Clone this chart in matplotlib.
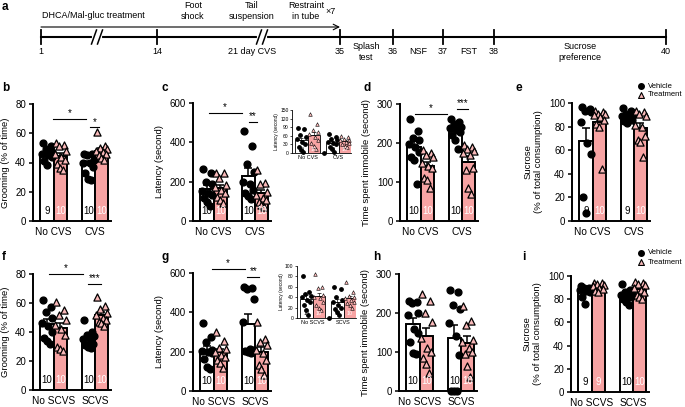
import numpy as np
import matplotlib
matplotlib.use("Agg")
import matplotlib.pyplot as plt

plt.rcParams['font.family'] = ['Liberation Sans', 'DejaVu Sans']

W, H = 685, 407
PINK = "#F7A3A3"
TRI = "#F9B9B9"

# ---- data ----
cvs_groups = ["No CVS", "CVS"]
scvs_groups = ["No SCVS", "SCVS"]

# b grooming (% of time)
b_veh = [[53, 51, 49, 47, 46, 45, 44, 41, 38],
         [46, 46, 45, 42, 40, 40, 37, 33, 29, 28]]
b_trt = [[53, 52, 51, 48, 46, 44, 42, 39, 36, 35],
         [61, 51, 50, 49, 48, 47, 46, 45, 43, 42]]
# c latency (second)
c_veh = [[265, 243, 200, 187, 153, 141, 133, 116, 99, 78],
         [460, 380, 290, 250, 200, 190, 160, 140, 125, 110]]
c_trt = [[243, 243, 218, 184, 175, 158, 141, 124, 107, 90],
         [260, 192, 187, 150, 133, 116, 107, 99, 82, 73]]
c_in_veh = [[88, 85, 62, 55, 48, 40, 30, 20, 12, 5],
            [65, 55, 50, 45, 40, 35, 30, 20, 15, 5]]
c_in_trt = [[135, 100, 80, 75, 65, 55, 45, 35, 25, 15],
            [60, 55, 50, 45, 45, 40, 35, 30, 25, 20]]
c_in_stray = [0]
# d time immobile (second)
d_veh = [[261, 232, 212, 208, 197, 191, 178, 165, 156, 94],
         [261, 255, 248, 242, 238, 233, 229, 220, 208, 184]]
d_trt = [[182, 175, 170, 165, 150, 140, 135, 110, 105, 85],
         [195, 190, 185, 180, 175, 170, 135, 130, 85, 70]]
# e sucrose (% of total consumption)
e_veh = [[97, 95, 93, 92, 84, 66, 57, 20, 7],
         [96, 93, 91, 90, 89, 88, 86, 85, 83]]
e_trt = [[93, 92, 91, 91, 90, 88, 86, 82, 80, 44],
         [93, 92, 91, 89, 81, 80, 72, 69, 67, 54]]
# f grooming
f_veh = [[62, 57, 54, 50, 46, 44, 40, 36, 34, 32],
         [48, 40, 38, 37, 35, 34, 32, 31, 30, 29]]
f_trt = [[61, 55, 52, 48, 45, 42, 38, 30, 28, 27],
         [64, 58, 56, 53, 52, 50, 48, 47, 46, 44]]
# g latency
g_veh = [[345, 275, 250, 210, 205, 200, 195, 165, 120, 110],
         [530, 525, 520, 470, 350, 215, 210, 205, 200, 195]]
g_trt = [[300, 255, 220, 215, 200, 185, 175, 160, 140, 115],
         [350, 265, 250, 235, 210, 195, 160, 130, 110, 80]]
g_in_veh = [[80, 50, 47, 42, 40, 35, 30, 25, 15, 5],
            [60, 55, 40, 35, 30, 25, 20, 18, 12, 5]]
g_in_trt = [[85, 60, 58, 45, 40, 38, 30, 25, 20, 15],
            [70, 50, 42, 40, 38, 35, 30, 28, 25, 20]]
g_in_stray = [0]
# h time immobile
h_veh = [[232, 228, 225, 200, 195, 160, 150, 125, 98, 95],
         [260, 255, 220, 210, 175, 140, 92, 0, 0, 0]]
h_trt = [[248, 230, 200, 178, 135, 110, 100, 85, 70, 45],
         [218, 180, 170, 130, 125, 110, 100, 95, 65, 35]]
# i sucrose
i_veh = [[91, 90, 90, 89, 88, 87, 86, 82, 76],
         [93, 88, 86, 85, 84, 83, 82, 80, 78, 75]]
i_trt = [[94, 94, 93, 92, 91, 90, 89, 87, 86],
         [95, 94, 93, 92, 90, 88, 86, 84, 82, 80]]

# significance bars: (x1, x2, y, label)
b_sig = [(-0.02, 0.79, 70, "*"), (0.89, 1.11, 64, "*")]
c_sig = [(-0.12, 0.68, 550, "*"), (0.86, 1.05, 505, "**")]
d_sig = [(-0.14, 0.63, 274, "*"), (0.88, 1.16, 287, "***")]
f_sig = [(-0.11, 0.70, 80, "*"), (0.84, 1.14, 73, "***")]
g_sig = [(-0.05, 0.75, 620, "*"), (0.82, 1.11, 580, "**")]

# timeline
tl_days = ["1", "14", "35", "36", "37", "38", "40"]
tl_between = ["Splash\ntest", "NSF", "FST", "Sucrose\npreference"]
tl_stress = ["Foot\nshock", "Tail\nsuspension", "Restraint\nin tube"]

# layout of the schematic (pixels)
tl_x = [41, 157, 340, 393, 443, 494, 666]
tl_stress_x = [193, 252, 306]
tl_breaks = [97, 262]
TL_Y = 37

fig = plt.figure(figsize=(W / 100, H / 100), dpi=100)

# overlay axes in pixel coords for schematic, letters and legends
ov = fig.add_axes([0, 0, 1, 1])
ov.set_xlim(0, W)
ov.set_ylim(H, 0)
ov.axis("off")

FS = 6.5
ov.plot([tl_x[0], tl_x[-1]], [TL_Y, TL_Y], color="k", lw=1.5)
for x, d in zip(tl_x, tl_days):
    ov.plot([x, x], [TL_Y - 7, TL_Y + 7], color="k", lw=1.3)
    ov.text(x, TL_Y + 14, d, ha="center", va="center", fontsize=FS)
for bx in tl_breaks:
    ov.plot([bx - 3, bx + 3], [TL_Y, TL_Y], color="white", lw=3, zorder=3)
    for dx in (-3, 3):
        ov.plot([bx + dx - 2.5, bx + dx + 2.5], [TL_Y + 7, TL_Y - 7], color="k", lw=1.1, zorder=4)
for k, t in enumerate(tl_between):
    ov.text((tl_x[k + 2] + tl_x[k + 3]) / 2, TL_Y + 15, t, ha="center", va="center",
            fontsize=FS, linespacing=1.3)
ov.text(tl_breaks[1] - 10, TL_Y + 14, "21 day CVS", ha="center", va="center", fontsize=FS)
ov.annotate("", xy=(tl_x[2], 27), xytext=(tl_x[0], 27),
            arrowprops=dict(arrowstyle="->", lw=0.8, color="k", shrinkA=0, shrinkB=0))
ov.text(tl_x[0] + 1, 16, "DHCA/Mal-gluc treatment", ha="left", va="center", fontsize=FS)
for x, t in zip(tl_stress_x, tl_stress):
    ov.text(x, 11, t, ha="center", va="center", fontsize=FS, linespacing=1.3)
ov.text(tl_x[2] - 9, 11, "×7", ha="center", va="center", fontsize=FS)

letters = [("a", 2, 7), ("b", 2, 88), ("c", 162, 88), ("d", 364, 88), ("e", 516, 88),
           ("f", 2, 257), ("g", 162, 257), ("h", 373, 257), ("i", 522, 257)]
for t, x, y in letters:
    ov.text(x, y, t, fontsize=8.5, fontweight="bold", ha="left", va="center")

for ly in (86, 253):
    ov.scatter([641], [ly], marker="o", s=16, color="k")
    ov.scatter([641], [ly + 9], marker="^", s=18, facecolor=TRI, edgecolor="k", linewidths=0.8)
    ov.text(648, ly, "Vehicle", fontsize=5.5, va="center")
    ov.text(648, ly + 9, "Treatment", fontsize=5.5, va="center")

JIT = np.array([-0.1, 0.09, -0.03, 0.13, -0.13, 0.03, 0.11, -0.07, 0.0, 0.06])


def px_axes(left, top, right, bottom):
    return fig.add_axes([left / W, 1 - bottom / H, (right - left) / W, (bottom - top) / H])


def panel(ax, veh, trt, ymax, ystep, groups, ylabel, sig=None, small=False, stray=None):
    bw = 0.4 if small else 0.32
    off = bw / 2
    ms = 6 if small else 24
    lw = 0.6 if small else 1.4
    for g in range(2):
        for data, dx, col in ((veh[g], -off, "white"), (trt[g], off, PINK)):
            v = np.array(data, float)
            m = v.mean()
            sem = v.std(ddof=1) / np.sqrt(len(v))
            x = g + dx
            ax.bar(x, m, width=bw, color=col, edgecolor="k", linewidth=lw, zorder=1)
            ax.errorbar(x, m, yerr=[[0], [sem]], color="k", lw=lw * 0.8,
                        capsize=1.5 if small else 3, capthick=lw * 0.8, zorder=2)
            xs = x + JIT[:len(v)] * bw / 0.32 * (0.9 if small else 1.0)
            if col == "white":
                ax.scatter(xs, v, s=ms, color="k", zorder=3, clip_on=False)
                ax.text(x, 0.085 * ymax, str(len(v)), ha="center", va="center",
                        fontsize=3.8 if small else 7, color="k", zorder=2)
            else:
                ax.scatter(xs, v, s=ms * 1.1, marker="^", facecolor=TRI, edgecolor="k",
                           linewidths=0.4 if small else 0.9, zorder=3, clip_on=False)
                ax.text(x, 0.085 * ymax, str(len(v)), ha="center", va="center",
                        fontsize=3.8 if small else 7, color="white", zorder=4)
    if stray:
        ax.scatter([0.52] * len(stray), stray, s=ms, color="k", zorder=3, clip_on=False)
    ax.set_xlim(-0.5, 1.4)
    ax.set_ylim(0, ymax)
    ax.set_yticks(np.arange(0, ymax + 1, ystep))
    ax.set_xticks([0, 1])
    ax.set_xticklabels(groups)
    for s in ("top", "right"):
        ax.spines[s].set_visible(False)
    for s in ("left", "bottom"):
        ax.spines[s].set_linewidth(lw)
    if small:
        ax.tick_params(axis="y", labelsize=3.6, length=1.5, width=0.5, pad=1)
        ax.tick_params(axis="x", labelsize=4, length=0, pad=1.5)
        ax.set_ylabel(ylabel, fontsize=3.4, labelpad=1)
    else:
        ax.tick_params(axis="y", labelsize=FS + 0.5, length=3, width=1.1, pad=2)
        ax.tick_params(axis="x", labelsize=FS + 0.8, length=0, pad=4)
        ax.set_ylabel(ylabel, fontsize=FS + 0.3, labelpad=4, linespacing=1.2)
    if sig:
        for x1, x2, y, t in sig:
            ax.plot([x1, x2], [y, y], color="k", lw=0.8, clip_on=False)
            ax.text((x1 + x2) / 2, y + ymax * 0.005, t, ha="center", va="bottom",
                    fontsize=7, clip_on=False)
    return ax


def main_axes(c0, top, bottom):
    return px_axes(c0 - 0.5 * 56, top, c0 + 0.9 * 56, bottom)


panel(main_axes(61, 104, 221), b_veh, b_trt, 80, 20, cvs_groups, "Grooming (% of time)", b_sig)
panel(main_axes(221, 103, 221), c_veh, c_trt, 600, 200, cvs_groups, "Latency (second)", c_sig)
panel(px_axes(292, 110, 351, 153), c_in_veh, c_in_trt, 150, 30, cvs_groups,
      "Latency (second)", small=True, stray=c_in_stray)
panel(main_axes(428, 104, 221), d_veh, d_trt, 300, 100, cvs_groups,
      "Time spent immobile (second)", d_sig)
panel(main_axes(600, 103, 221), e_veh, e_trt, 100, 20, cvs_groups,
      "Sucrose\n(% of total consumption)")

panel(main_axes(61, 274, 390), f_veh, f_trt, 80, 20, scvs_groups, "Grooming (% of time)", f_sig)
panel(main_axes(221, 273, 391), g_veh, g_trt, 600, 200, scvs_groups, "Latency (second)", g_sig)
panel(px_axes(297, 266, 356, 318), g_in_veh, g_in_trt, 100, 20, scvs_groups,
      "Latency (second)", small=True, stray=g_in_stray)
panel(main_axes(427, 274, 391), h_veh, h_trt, 300, 100, scvs_groups,
      "Time spent immobile (second)")
panel(main_axes(599, 276, 392), i_veh, i_trt, 100, 20, scvs_groups,
      "Sucrose\n(% of total consumption)")

fig.savefig("out.png", dpi=100)
